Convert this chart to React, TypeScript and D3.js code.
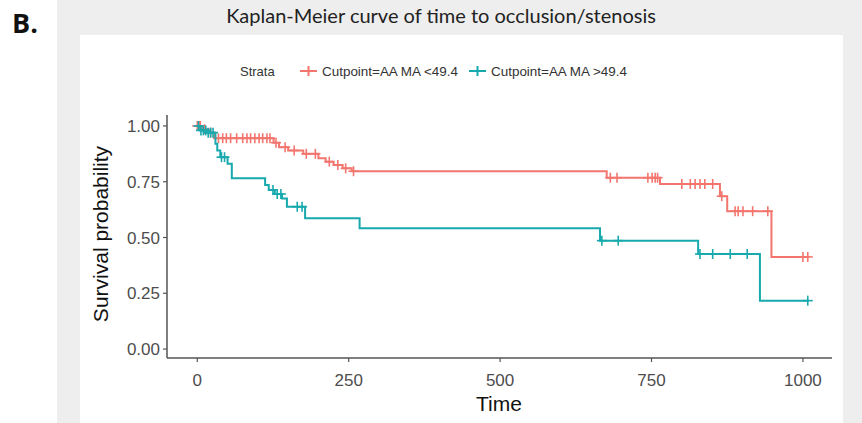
import * as d3 from 'd3';

// Kaplan-Meier steps: [time, survival after event]
const lowSteps: [number, number][] = [
  [0, 1], [8, 0.985], [18, 0.97], [28, 0.945], [126, 0.925], [135, 0.905], [150, 0.89],
  [175, 0.875], [200, 0.855], [212, 0.84], [225, 0.825], [240, 0.81], [255, 0.797],
  [676, 0.768], [764, 0.74], [863, 0.685], [875, 0.618], [948, 0.413],
];
const lowCensor = [
  0, 3, 5, 12, 22, 35, 42, 48, 55, 65, 75, 82, 88, 95, 102, 108, 115, 120, 130, 145, 160,
  180, 195, 218, 232, 245, 258, 682, 693, 744, 751, 756, 760, 800, 814, 822, 830, 838, 851,
  866, 888, 893, 901, 917, 942, 1000, 1008,
];
const highSteps: [number, number][] = [
  [0, 1], [5, 0.98], [18, 0.97], [30, 0.92], [33, 0.89], [38, 0.86], [50, 0.83], [57, 0.765],
  [112, 0.735], [118, 0.713], [128, 0.695], [140, 0.675], [148, 0.638], [178, 0.586],
  [268, 0.541], [665, 0.486], [827, 0.426], [929, 0.217],
];
const highCensor = [2, 6, 10, 14, 18, 22, 26, 40, 45, 125, 132, 138, 165, 173, 668, 695, 830, 851, 880, 908, 1008];
const lastTime = 1010;

const xTicks = [0, 250, 500, 750, 1000];
const yTicks = [0, 0.25, 0.5, 0.75, 1];
const legendLabels = ['Cutpoint=AA MA <49.4', 'Cutpoint=AA MA >49.4'];

const RED = '#f3766e';
const TEAL = '#17a9ad';

function survAt(steps: [number, number][], t: number) {
  let s = 1;
  for (const [st, sv] of steps) if (st <= t) s = sv;
  return s;
}

export default function App() {
  const x = d3.scaleLinear().domain([-50, 1048]).range([167, 832]);
  const y = d3.scaleLinear().domain([-0.04, 1.049]).range([358, 115]);
  const line = d3.line<[number, number]>().x(d => x(d[0])).y(d => y(d[1])).curve(d3.curveStepAfter);

  const series = [
    { steps: lowSteps, censor: lowCensor, color: RED },
    { steps: highSteps, censor: highCensor, color: TEAL },
  ];

  const tickFont = { fontFamily: 'Liberation Sans, Arial, sans-serif', fontSize: 17, fill: '#4d4d4d' };

  return (
    <svg width={862} height={423} style={{ position: 'absolute', left: 0, top: 0 }}>
      <rect x={0} y={0} width={862} height={423} fill="#fff" />
      <rect x={57} y={0} width={805} height={423} fill="#eeeeee" />
      <rect x={80} y={35} width={763} height={388} fill="#fff" />
      <text x={12} y={33} fontFamily="Open Sans, sans-serif" fontWeight="bold" fontSize={27} fill="#111">B.</text>
      <text x={441} y={23} textAnchor="middle" fontFamily="Lato, sans-serif" fontSize={20} fill="#222">
        Kaplan-Meier curve of time to occlusion/stenosis
      </text>

      {/* legend */}
      <g fontFamily="Liberation Sans Narrow, Arial Narrow, sans-serif" fontSize={13} fill="#333">
        <text x={240} y={76}>Strata</text>
        {legendLabels.map((lab, i) => {
          const lx = 300 + i * 169;
          const c = i === 0 ? RED : TEAL;
          return (
            <g key={lab}>
              <line x1={lx} x2={lx + 17} y1={71} y2={71} stroke={c} strokeWidth={2} />
              <line x1={lx + 8.5} x2={lx + 8.5} y1={66} y2={76} stroke={c} strokeWidth={2} />
              <text x={lx + 22} y={76} textLength={136} lengthAdjust="spacingAndGlyphs">{lab}</text>
            </g>
          );
        })}
      </g>

      {/* axes */}
      <line x1={167} x2={167} y1={115} y2={358} stroke="#555" strokeWidth={1.5} />
      <line x1={167} x2={832} y1={358} y2={358} stroke="#555" strokeWidth={1.5} />
      {yTicks.map(t => (
        <g key={t}>
          <line x1={163} x2={167} y1={y(t)} y2={y(t)} stroke="#555" strokeWidth={1.2} />
          <text x={160} y={y(t) + 6} textAnchor="end" {...tickFont}>{t.toFixed(2)}</text>
        </g>
      ))}
      {xTicks.map(t => (
        <g key={t}>
          <line x1={x(t)} x2={x(t)} y1={358} y2={362} stroke="#555" strokeWidth={1.2} />
          <text x={x(t)} y={386} textAnchor="middle" {...tickFont}>{t}</text>
        </g>
      ))}
      <text x={499} y={411} textAnchor="middle" fontFamily="Liberation Sans, Arial, sans-serif" fontSize={21} fill="#111">Time</text>
      <text transform="translate(108,234) rotate(-90)" textAnchor="middle" fontFamily="Liberation Sans, Arial, sans-serif" fontSize={21} fill="#111">
        Survival probability
      </text>

      {/* curves */}
      {series.map((s, i) => {
        const pts: [number, number][] = [...s.steps, [lastTime, s.steps[s.steps.length - 1][1]]];
        return (
          <g key={i}>
            <path d={line(pts) ?? ''} fill="none" stroke={s.color} strokeWidth={2} />
            {s.censor.map((t, j) => {
              const cx = x(t);
              const cy = y(survAt(s.steps, t));
              return (
                <g key={j} stroke={s.color} strokeWidth={1.6}>
                  <line x1={cx - 5} x2={cx + 5} y1={cy} y2={cy} />
                  <line x1={cx} x2={cx} y1={cy - 5} y2={cy + 5} />
                </g>
              );
            })}
          </g>
        );
      })}
    </svg>
  );
}
